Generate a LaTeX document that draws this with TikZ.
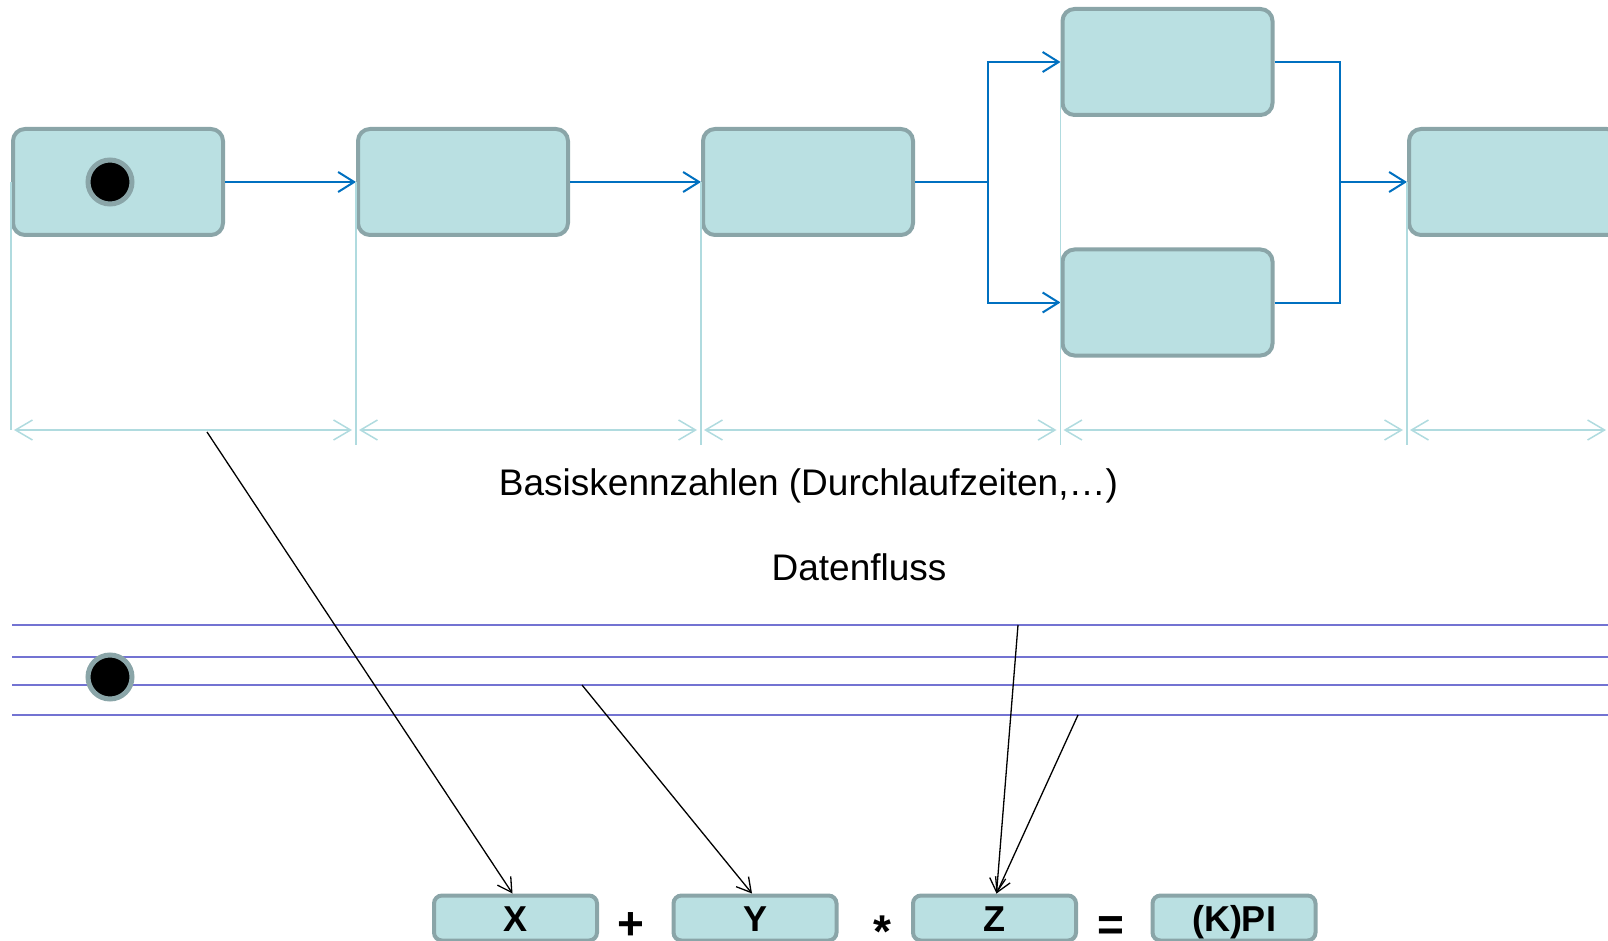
\documentclass[tikz,border=0pt]{standalone}
\usepackage{xcolor}
\usepackage{fontspec}
\setmainfont{Liberation Sans}
\usepackage{tikz}
\usetikzlibrary{positioning,arrows.meta}

\definecolor{boxfill}{RGB}{186,224,226}
\definecolor{boxline}{RGB}{138,165,168}
\definecolor{dimcol}{RGB}{176,219,223}
\definecolor{flowcol}{RGB}{0,112,192}
\definecolor{lanecol}{RGB}{115,115,210}

\begin{document}
\begin{tikzpicture}[x=1pt, y=-1pt, node distance=131pt,
        stage/.style={draw=boxline, fill=boxfill, line width=4pt, rounded corners=12pt,
            minimum width=210pt, minimum height=106pt, inner sep=0pt},
        term/.style={draw=boxline, fill=boxfill, line width=4pt, rounded corners=8pt,
            minimum width=163pt, minimum height=45pt, inner sep=0pt, text height=26pt, text depth=0pt,
            font=\bfseries\fontsize{36}{40}\selectfont},
        optext/.style={anchor=base, inner sep=0pt, text depth=0pt, font=\bfseries\fontsize{46}{50}\selectfont},
        captiontext/.style={anchor=base, inner sep=0pt, font=\fontsize{37}{44}\selectfont},
        startdot/.style={circle, draw=boxline, fill=black, line width=5pt, minimum size=44pt, inner sep=0pt},
        flowline/.style={draw=flowcol, line width=2pt},
        flowarrow/.style={flowline, -{Straight Barb[length=16pt, width=20pt]}},
        dimline/.style={draw=dimcol, line width=1.5pt},
        dimarrow/.style={dimline, shorten <=3pt, shorten >=4pt,
            {Straight Barb[length=17pt, width=20pt]}-{Straight Barb[length=17pt, width=20pt]}},
        laneline/.style={draw=lanecol, line width=1.6pt},
        feedarrow/.style={draw=black, line width=1.3pt, -{Straight Barb[length=14pt, width=16pt]}}]
    \useasboundingbox (0,0) rectangle (1608,941);
    \clip (0,0) rectangle (1608,941);

    % process chain
    \node[stage] (s1) at (118,182) {};
    \node[startdot] (dot1) at (110,182) {};
    \node[stage, right=of s1] (s2) {};
    \node[stage, right=of s2] (s3) {};
    \node[stage] (top) at (1167.5,62) {};
    \node[stage] (bot) at (1167.5,302.5) {};
    \node[stage] (s6) at (1514,182) {};
    \coordinate (split) at (988,182);
    \coordinate (merge) at (1340,182);

    \draw[flowarrow] (s1) -- (s2);
    \draw[flowarrow] (s2) -- (s3);
    \draw[flowline] (s3) -- (split);
    \draw[flowarrow] (split) |- (top);
    \draw[flowarrow] (split) |- (bot);
    \draw[flowline] (top) -| (merge);
    \draw[flowline] (bot) -| (merge);
    \draw[flowarrow] (merge) -- (s6);

    % durations
    \coordinate (dimrow) at (0,430);
    \coordinate (dimbase) at (0,445);
    \coordinate (edge) at (1610,430);
    \draw[dimline] (s1.west) -- (s1.west |- dimrow);
    \foreach \n in {s2,s3,top,s6}
        \draw[dimline] (\n.west) -- (\n.west |- dimbase);
    \foreach \a/\b in {s1/s2, s2/s3, s3/top, top/s6}
        \draw[dimarrow] (\a.west |- dimrow) -- (\b.west |- dimrow);
    \draw[dimarrow] (s6.west |- dimrow) -- (edge);

    \node[captiontext] (basis) at (808.5,495) {Basiskennzahlen (Durchlaufzeiten,…)};
    \node[captiontext] (datenfluss) at (859,580) {Datenfluss};

    % data lanes
    \foreach \y [count=\i] in {625,657,685,715} {
        \coordinate (lane\i) at (12,\y);
        \draw[laneline] (lane\i) -- (1610,\y);
    }
    \node[startdot] (dot2) at (110,677) {};

    % formula
    \node[term] (xterm) at (515.5,918) {X};
    \node[term, right=72.5pt of xterm] (yterm) {Y};
    \node[term, right=72.5pt of yterm] (zterm) {Z};
    \node[term, right=72.5pt of zterm] (kpi) {(K)PI};
    \node[optext] (plus) at (631,939) {+};
    \node[optext] (times) at (882,947) {*};
    \node[optext] (equals) at (1110.5,940) {=};

    \coordinate (f1) at (207,432);
    \coordinate (f2) at (582,685);
    \coordinate (f3) at (1018,625);
    \coordinate (f4) at (1078,715);
    \draw[feedarrow] (f1) -- ([xshift=-3pt]xterm.north);
    \draw[feedarrow] (f2) -- ([xshift=-3pt]yterm.north);
    \draw[feedarrow] (f3) -- ([xshift=2pt]zterm.north);
    \draw[feedarrow] (f4) -- ([xshift=2pt]zterm.north);
\end{tikzpicture}
\end{document}
